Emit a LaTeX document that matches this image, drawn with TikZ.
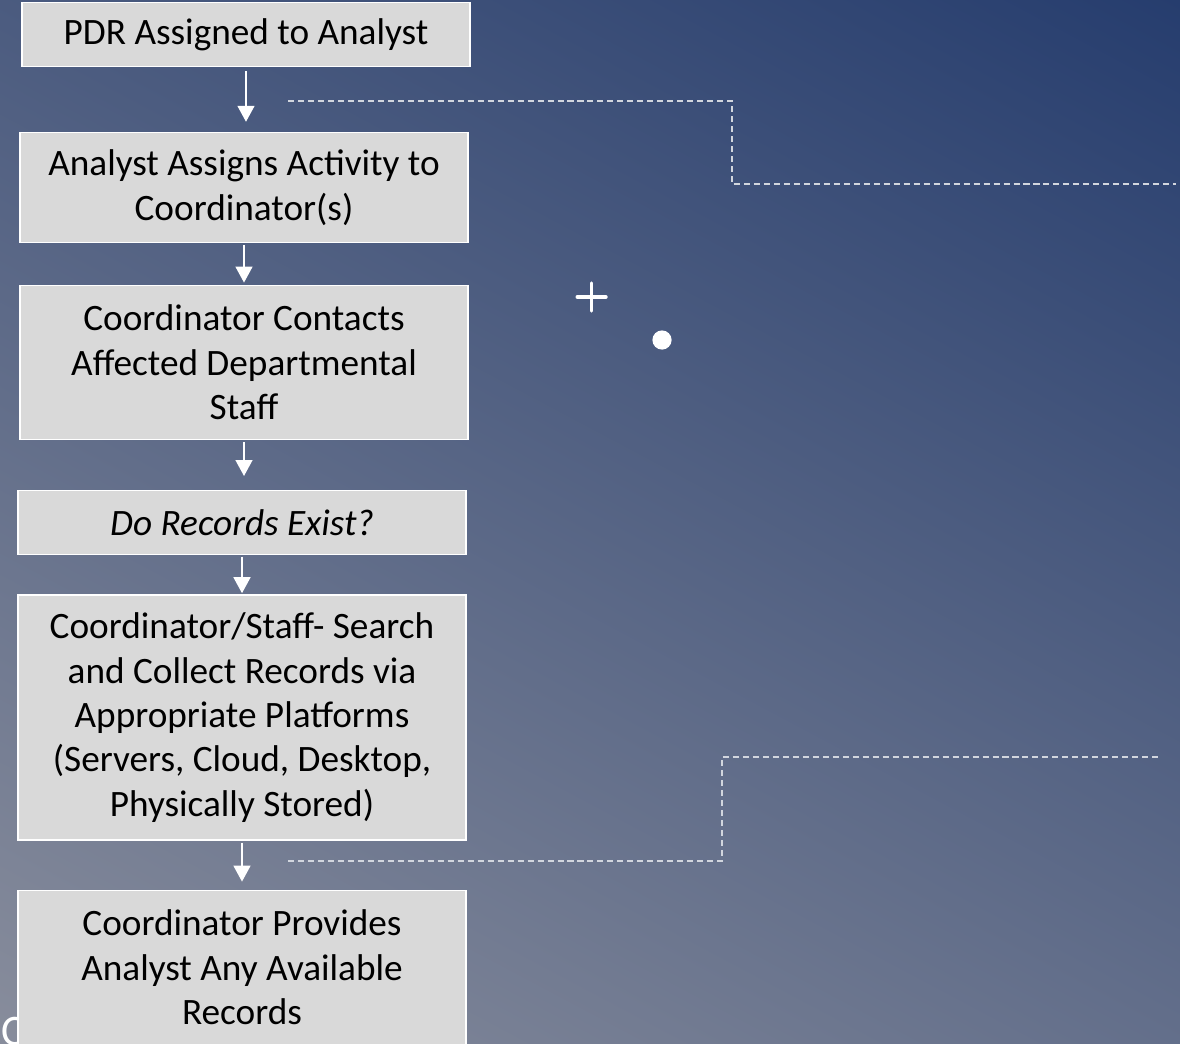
\documentclass[tikz,border=0pt]{standalone}
\usepackage{fontspec}
\setmainfont{Carlito}
\usepackage{tikz}
\usepackage{xcolor}
\usetikzlibrary{arrows.meta, positioning, shapes, calc}

\definecolor{bgdark}{HTML}{263D6E}
\definecolor{bgmid}{HTML}{536286}
\definecolor{bglight}{HTML}{888D9C}
\definecolor{boxgray}{HTML}{D9D9D9}
\definecolor{dashgray}{HTML}{D2D6DE}

\begin{document}
\begin{tikzpicture}[
    node distance=1cm,
    procbox/.style={
        rectangle,
        minimum width=11.2cm,
        minimum height=1.6cm,
        draw=white,
        line width=1pt,
        fill=boxgray,
        align=center,
        inner sep=0pt,
        font=\fontsize{26.5}{31.5}\selectfont
    },
    flowarrow/.style={
        -{Triangle[width=0.42cm, length=0.4cm]},
        line width=1.5pt,
        white
    },
    calloutline/.style={
        dashgray,
        line width=0.8pt,
        dash pattern=on 4.3pt off 2.8pt
    }
]
\useasboundingbox (0,0) rectangle (29.5,-26.1);
% background
\coordinate (mid) at (14.75,-13.05);
\begin{scope}
\clip (0,0) rectangle (29.5,-26.1);
\shade [transform canvas={rotate around={-28:(mid)}},
        top color=bgdark, middle color=bgmid, bottom color=bglight]
    ($(mid)+(-20,-18.45)$) rectangle ($(mid)+(20,18.45)$);
\end{scope}

\node (cfrag) [anchor=base west, inner sep=0pt, text=white, font=\fontsize{31}{36}\selectfont]
    at (0.02,-26.13) {C};

\node (assign) [procbox, anchor=north] at (6.15,-0.05) {PDR Assigned to Analyst};
\node (activity) [procbox, minimum height=2.75cm, below=1.61cm of assign, xshift=-0.05cm]
    {Analyst Assigns Activity to\\Coordinator(s)};
\node (contact) [procbox, minimum height=3.85cm, below=1.035cm of activity]
    {Coordinator Contacts\\Affected Departmental\\Staff};
\node (exist) [procbox, below=1.25cm of contact, xshift=-0.05cm] {\itshape Do Records Exist?};
\node (search) [procbox, minimum height=6.125cm, below=0.975cm of exist]
    {Coordinator/Staff- Search\\and Collect Records via\\Appropriate Platforms\\(Servers, Cloud, Desktop,\\Physically Stored)};
\node (provide) [procbox, minimum height=3.85cm, below=1.22cm of search]
    {Coordinator Provides\\Analyst Any Available\\Records};

\draw [flowarrow, shorten <=0.1cm, shorten >=0.25cm] (assign) -- (assign |- activity.north);
\draw [flowarrow, shorten <=0.05cm, shorten >=0.05cm] (activity) -- (activity |- contact.north);
\draw [flowarrow, shorten <=0.05cm, shorten >=0.35cm] (contact) -- (contact |- exist.north);
\draw [flowarrow, shorten <=0.03cm, shorten >=0.03cm] (exist) -- (exist |- search.north);
\draw [flowarrow, shorten <=0.05cm, shorten >=0.2cm] (search) -- (provide);

% dashed callout lines
\coordinate (topstart) at (7.2,-2.525);
\coordinate (topbend) at (18.3,-4.6);
\coordinate (topend) at (29.4,-4.6);
\draw [calloutline] (topstart) -| (topbend) -- (topend);

\coordinate (lowstart) at (7.2,-21.525);
\coordinate (lowbend) at (18.05,-18.925);
\coordinate (lowend) at (28.95,-18.925);
\draw [calloutline] (lowstart) -| (lowbend) -- (lowend);

% plus and dot
\coordinate (plus) at (14.79,-7.425);
\draw [white, line width=2.4pt, line cap=round] ($(plus)+(-0.36,0)$) -- ($(plus)+(0.36,0)$);
\draw [white, line width=2.4pt, line cap=round] ($(plus)+(0,-0.35)$) -- ($(plus)+(0,0.35)$);
\fill [white] (16.55,-8.5) circle (0.24cm);
\end{tikzpicture}
\end{document}
